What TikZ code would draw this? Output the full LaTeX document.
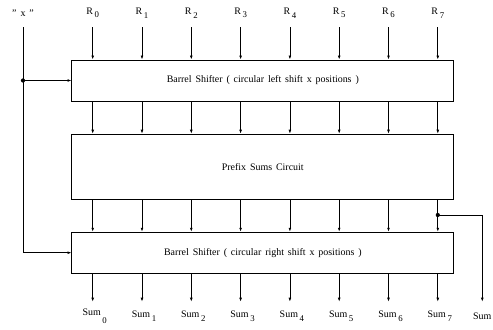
\documentclass[tikz,border=0pt]{standalone}
\usepackage{fontspec}
\setmainfont{Liberation Serif}
\usetikzlibrary{arrows.meta,positioning}
\newcommand{\subsz}{\fontsize{7.5}{8}\selectfont}
\newcommand{\lblfont}{\fontsize{8.5}{10}\selectfont\spaceskip .39em\relax}

\begin{document}
\begin{tikzpicture}[x=0.03cm,y=-0.03cm,every node/.style={font=\lblfont},
  blk/.style={draw,line width=.8pt,minimum width=11.45cm,inner sep=0pt},
  sig/.style={line width=.6pt,-{Latex[length=3.4pt,width=2.4pt]}}]
\useasboundingbox (0,0) rectangle (493,330);
% the three blocks
\node[blk,minimum height=1.23cm] (bsl) at (262.8,80.5) {Barrel Shifter ( circular left shift x positions )};
\node[blk,minimum height=1.95cm] (psc) at (262.8,166.7) {Prefix Sums Circuit};
\node[blk,minimum height=1.23cm] (bsr) at (262.8,252.7) {Barrel Shifter ( circular right shift x positions )};
% inputs, columns and outputs
\foreach \i/\drop in {0/6.5pt,1/3.4pt,2/3.4pt,3/3.4pt,4/3.4pt,5/3.4pt,6/3.4pt,7/3.4pt}{
  \coordinate (r\i) at ({92.7+49.3*\i},27);
  \coordinate (s\i) at ({92.7+49.3*\i},301.7);
  \node (R\i) at ({92.7+49.3*\i},13) {R\,\raisebox{-3pt}{\subsz\i}};
  \node (S\i) at ({94.7+49.3*\i},316) {Sum\,\raisebox{-\drop}{\subsz\i}};
  \draw[sig] (r\i) -- (r\i |- bsl.north);
  \draw[sig] (r\i |- bsl.south) -- (r\i |- psc.north);
  \draw[sig] (r\i |- psc.south) -- (r\i |- bsr.north);
  \draw[sig] (r\i |- bsr.south) -- (s\i);
}
% shift amount x
\node (xlab) at (23,13) {\symbol{34} x \symbol{34}};
\coordinate (xt) at (23,27);
\coordinate (xd) at (xt |- bsl.west);
\draw[sig] (xt) |- (bsr.west);
\fill (xd) circle (1.8pt);
\draw[sig] (xd) -- (bsl.west);
% total sum
\coordinate (tap) at (437.8,215);
\coordinate (sx) at (482.3,301.7);
\fill (tap) circle (1.8pt);
\draw[sig] (tap) -| (sx);
\node (Sx) at (482.3,316) {Sum};
\end{tikzpicture}
\end{document}
